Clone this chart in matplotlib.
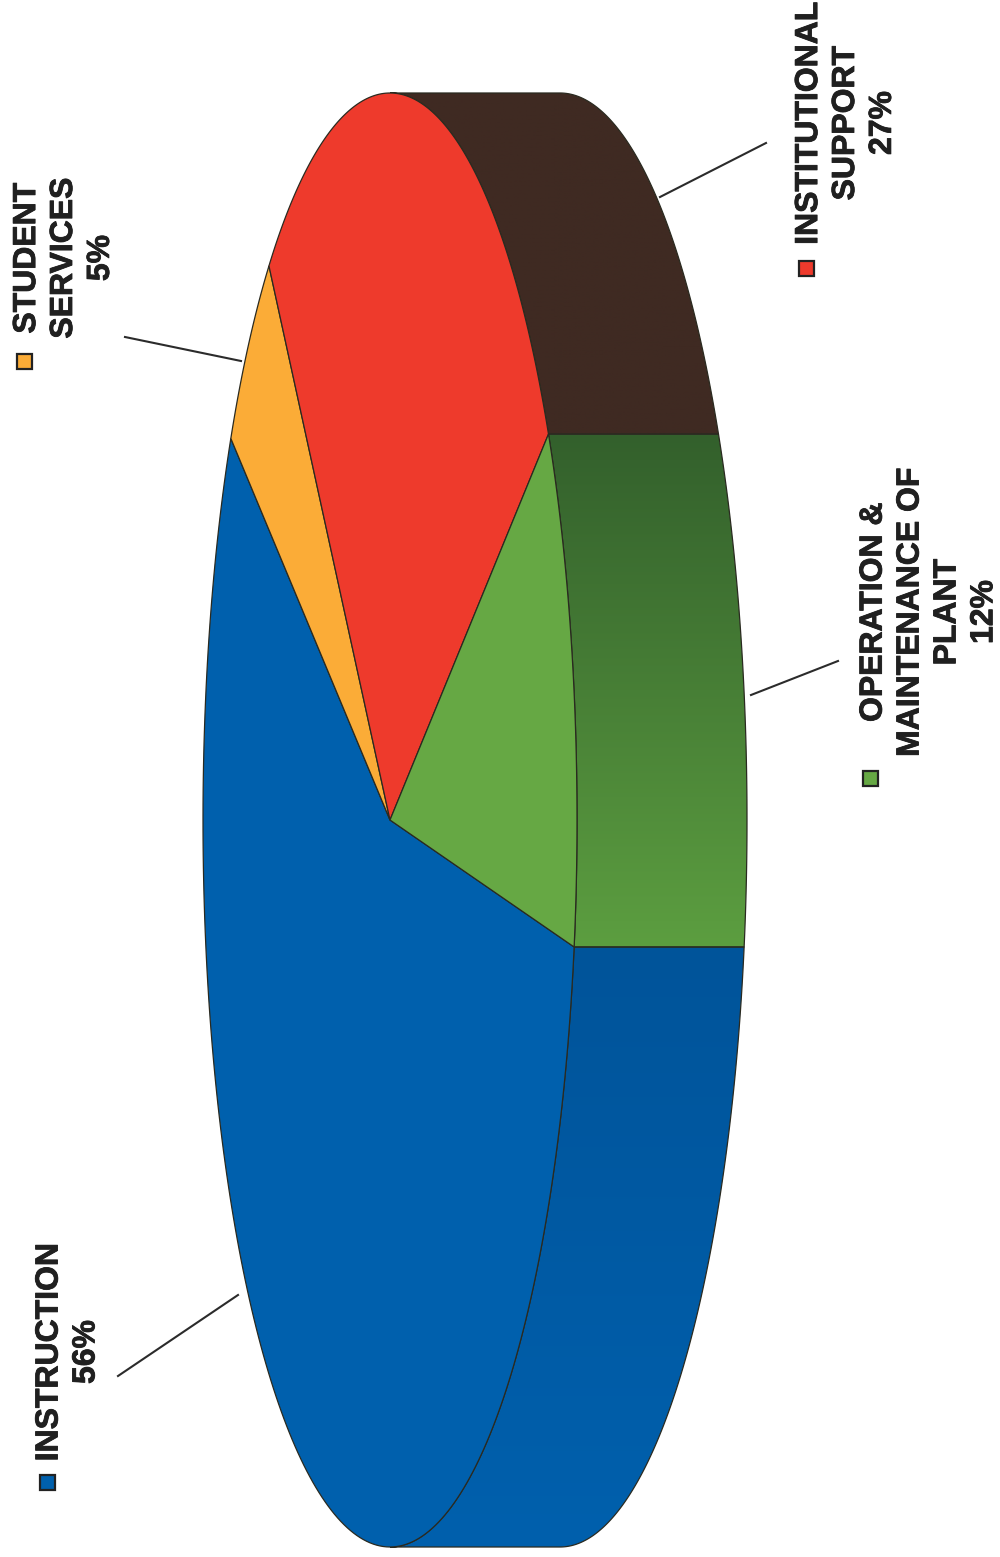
import matplotlib
matplotlib.use("Agg")
import matplotlib.pyplot as plt
from matplotlib.patches import Polygon, Rectangle
from matplotlib.colors import LinearSegmentedColormap
import matplotlib.patheffects as pe
import numpy as np

# shares going round the pie (read from the slice edges, labels show them rounded)
categories = ["INSTRUCTION", "STUDENT SERVICES", "INSTITUTIONAL SUPPORT", "OPERATION & MAINTENANCE OF PLANT"]
shares = [56, 5, 27.3, 11.7]
labels = ["INSTRUCTION\n56%", "STUDENT\nSERVICES\n5%", "INSTITUTIONAL\nSUPPORT\n27%", "OPERATION &\nMAINTENANCE OF\nPLANT\n12%"]
top_colors = ["#0060ad", "#fbac37", "#ee3a2c", "#66a844"]
side_colors = [("#00549a", "#0060ad"), ("#fbac37", "#fbac37"), ("#3f2a22", "#3f2a22"), ("#33602c", "#5c9e40")]

# pie drawn in pixel coords, y pointing down
cx, cy = 390, 820
rx, ry = 187, 727
depth = 170
start = 10.06
edge = "#2a2a20"

label_pos = [(68, 1352), (64, 258), (846, 123), (929, 612)]
marker_pos = [(47, 1482), (24, 361), (806, 268), (870, 778)]
leaders = [((118, 1376), (238, 1295)), ((125, 337), (241, 361)), ((766, 143), (660, 197)), ((838, 661), (751, 695))]


def rim(a0, a1, n=200):
    t = np.radians(np.linspace(a0, a1, n))
    return cx + rx * np.cos(t), cy + ry * np.sin(t)


def draw_side(lo, hi, colors, name):
    x, y = rim(lo, hi)
    pts = np.vstack([np.column_stack([x, y]), np.column_stack([x[::-1] + depth, y[::-1]])])
    poly = Polygon(pts, closed=True, facecolor="none", edgecolor="none", zorder=2)
    ax.add_patch(poly)
    cmap = LinearSegmentedColormap.from_list(name, colors)
    grad = np.linspace(0, 1, 256).reshape(-1, 1)
    im = ax.imshow(grad, cmap=cmap, aspect="auto", zorder=2,
                   extent=[x.min(), x.max() + depth, y.max(), y.min()], origin="upper")
    im.set_clip_path(poly)
    ax.add_patch(Polygon(pts, closed=True, facecolor="none", edgecolor=edge, lw=0.9, zorder=3))


fig = plt.figure(figsize=(10, 15.57), dpi=100, facecolor="w")
ax = fig.add_axes([0, 0, 1, 1])

a = start
for i, s in enumerate(shares):
    a_end = a + s * 3.6
    # side wall only where it faces us
    for v0, v1 in [(-90, 90), (270, 450)]:
        lo, hi = max(a, v0), min(a_end, v1)
        if hi > lo:
            draw_side(lo, hi, side_colors[i], "side%d" % i)
    # top face wedge
    x, y = rim(a, a_end)
    pts = np.vstack([[cx, cy], np.column_stack([x, y])])
    ax.add_patch(Polygon(pts, closed=True, facecolor=top_colors[i], edgecolor=edge, lw=0.9, zorder=4))
    a = a_end

for i in range(len(shares)):
    mx, my = marker_pos[i]
    ax.add_patch(Rectangle((mx - 7.5, my - 7.5), 15, 15, facecolor=top_colors[i], edgecolor="#222222", lw=1.6, zorder=5))
    (x0, y0), (x1, y1) = leaders[i]
    ax.plot([x0, x1], [y0, y1], color="#2b2b2b", lw=1.5, zorder=5)
    t = ax.text(label_pos[i][0], label_pos[i][1], labels[i], rotation=90, ha="center", va="center",
                multialignment="center", family="Liberation Sans", fontweight="bold", fontsize=23,
                color="#202020", linespacing=1.3, zorder=6)
    t.set_path_effects([pe.withStroke(linewidth=0.6, foreground="#202020")])

ax.set_xlim(0, 1000)
ax.set_ylim(1557, 0)
ax.axis("off")
fig.savefig("out.png", dpi=100, facecolor="w")
